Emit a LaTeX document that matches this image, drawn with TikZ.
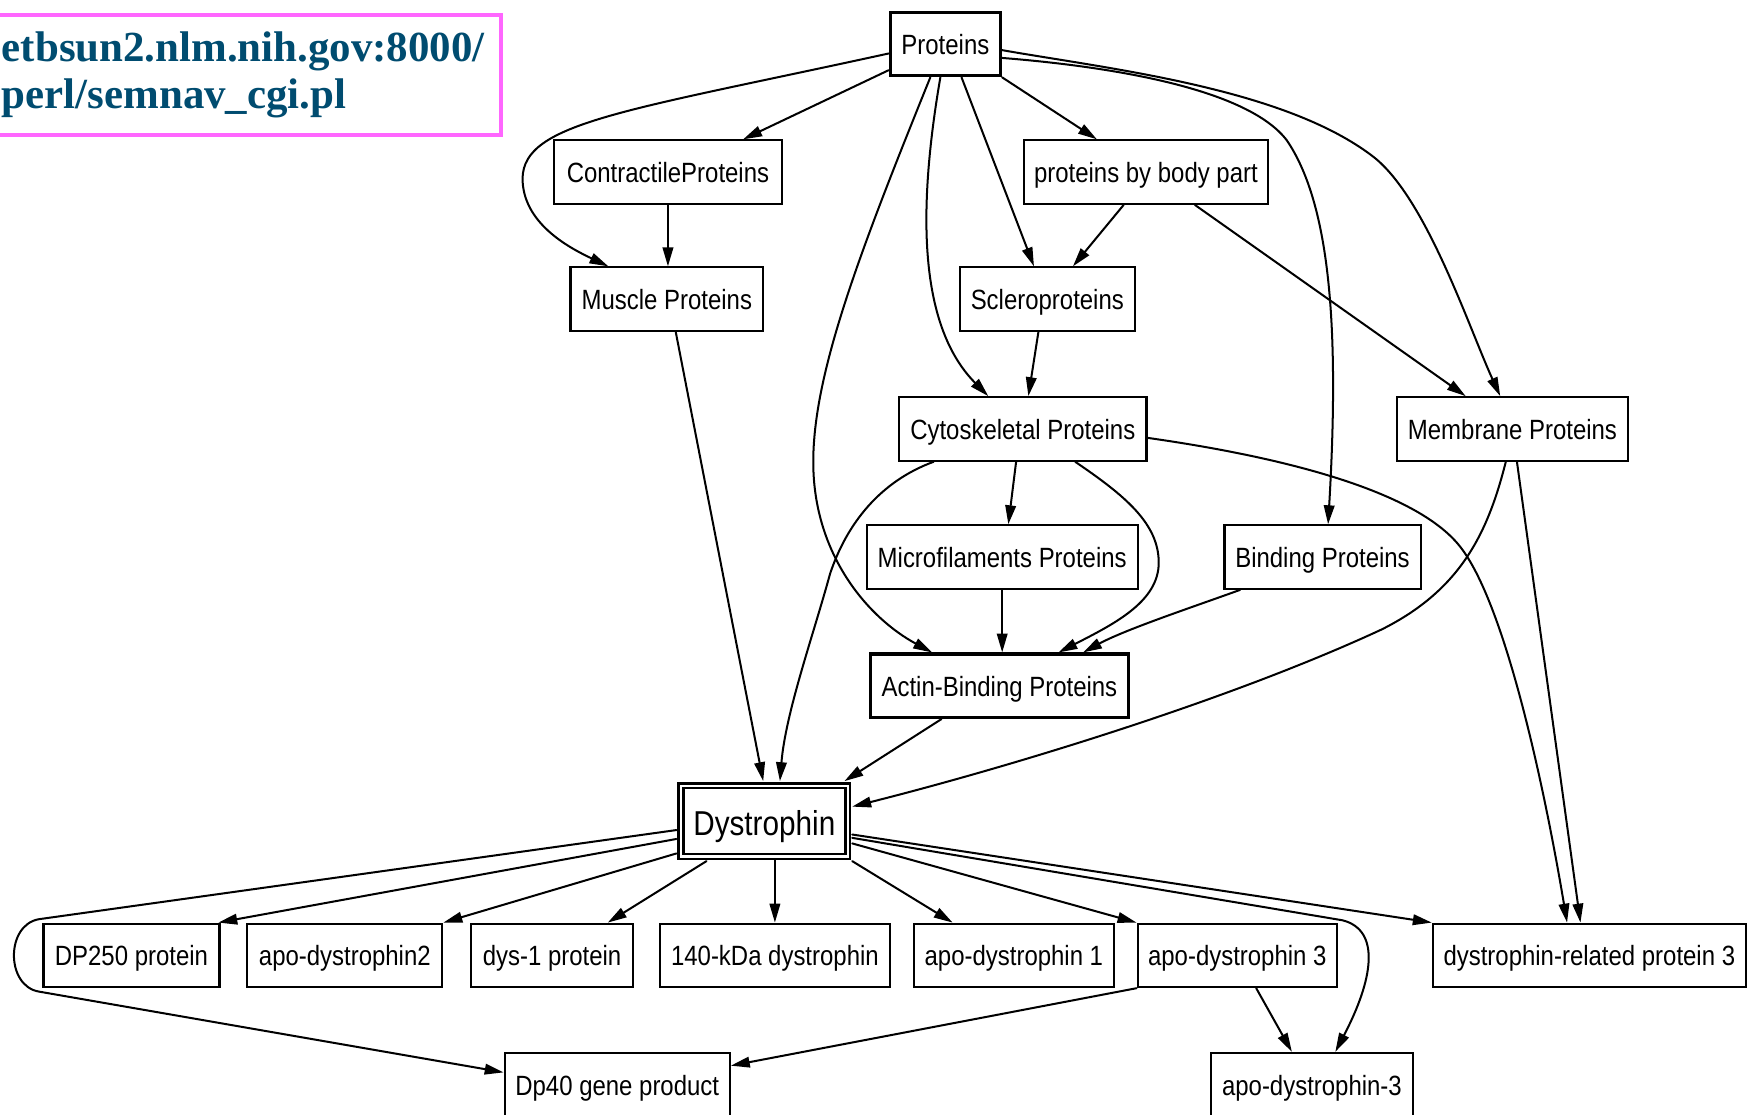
\documentclass[tikz,border=0pt]{standalone}
\usepackage{fontspec}
\usepackage{tikz}
\usetikzlibrary{arrows.meta,calc}
\usepackage{xcolor}
\newfontfamily\gvfont[FakeStretch=0.86]{Liberation Sans}
\newfontfamily\urlfont{Liberation Serif}
\definecolor{urlblue}{RGB}{0,76,112}
\definecolor{framepink}{RGB}{255,102,255}

\begin{document}
\begin{tikzpicture}[x=1pt,y=-1pt,>={Triangle[length=17pt,width=9.5pt]},line width=1.8pt,line cap=round,
  pbox/.style={draw,line width=1.9pt,minimum height=57pt,inner xsep=1pt,font=\gvfont\fontsize{25}{30}\selectfont,text height=19pt,text depth=0pt},
  thickbox/.style={pbox,line width=2.8pt},
  dbox/.style={pbox,double,double distance=2pt,line width=2.2pt,minimum height=63.6pt,font=\gvfont\fontsize{31}{36}\selectfont,text height=25pt}]
\fill[white] (0,0) rectangle (1568,1000);
\useasboundingbox (0,0) rectangle (1568,1000);
\clip (0,0) rectangle (1568,1000);
% address box
\node[draw=framepink,line width=3.5pt,inner xsep=15pt,inner ysep=15pt,anchor=north west,align=left,text=urlblue,font=\urlfont\bfseries\fontsize{38.5}{42}\selectfont] (url) at (-15,12) {etbsun2.nlm.nih.gov:8000/\\perl/semnav\_cgi.pl};
% nodes
\node[thickbox,minimum width=99pt] (prot) at (848.5,39.5) {Proteins};
\node[pbox,minimum width=205pt] (contr) at (599.5,154.5) {ContractileProteins};
\node[pbox,minimum width=219pt] (body) at (1028.5,154.5) {proteins by body part};
\node[pbox,minimum width=173pt] (musc) at (598.5,268.5) {Muscle Proteins};
\node[pbox,minimum width=157pt] (scler) at (940,268.5) {Scleroproteins};
\node[pbox,minimum width=222pt] (cyto) at (918,385) {Cytoskeletal Proteins};
\node[pbox,minimum width=207pt] (memb) at (1357.5,385) {Membrane Proteins};
\node[pbox,minimum width=243pt] (micro) at (899.5,500) {Microfilaments Proteins};
\node[pbox,minimum width=176pt] (bind) at (1187,500) {Binding Proteins};
\node[thickbox,minimum width=232pt] (actin) at (897,615.5) {Actin-Binding Proteins};
\node[dbox,minimum width=149.6pt] (dys) at (686,737) {Dystrophin};
\node[pbox,minimum width=158pt] (dp250) at (118,857.5) {DP250 protein};
\node[pbox,minimum width=175pt] (apo2) at (309.5,857.5) {apo-dystrophin2};
\node[pbox,minimum width=145pt] (dys1) at (495.5,857.5) {dys-1 protein};
\node[pbox,minimum width=207pt] (kda) at (695.5,857.5) {140-kDa dystrophin};
\node[pbox,minimum width=180pt] (apo1) at (910,857.5) {apo-dystrophin 1};
\node[pbox,minimum width=179pt] (apo3) at (1110.5,857.5) {apo-dystrophin 3};
\node[pbox,minimum width=281pt] (drp) at (1426.5,857.5) {dystrophin-related protein 3};
\node[pbox,minimum width=202pt] (dp40) at (554,973.5) {Dp40 gene product};
\node[pbox,minimum width=181pt] (apo3b) at (1177.5,973.5) {apo-dystrophin-3};
% upper edges
\draw[->] ($(prot.west)+(0,8.5)$) .. controls (560,100) and (470,110) .. (469,160) .. controls (469,200) and (510,222) .. ($(musc.north west)+(35,0)$);
\draw[->] ($(prot.west)+(0,23.5)$) -- ($(contr.north)+(67.5,0)$);
\draw[->] (contr.south) -- (contr.south |- musc.north);
\draw[->] ($(prot.south)+(-13.5,0)$) .. controls (770,230) and (728,340) .. (730,420) .. controls (732,500) and (780,555) .. ($(actin.north west)+(57,0)$);
\draw[->] ($(prot.south)+(-4.5,0)$) .. controls (825,180) and (822,290) .. ($(cyto.north)+(-31,0)$);
\draw[->] ($(prot.south)+(14.5,0)$) -- ($(scler.north)+(-12,0)$);
\draw[->] (prot.south east) -- ($(body.north)+(-44,0)$);
\draw[->] ($(prot.east)+(0,5.5)$) .. controls (996,62) and (1153,79) .. (1233,141) .. controls (1280,178) and (1318,293) .. ($(memb.north)+(-11,0)$);
\draw[->] ($(prot.east)+(0,12.5)$) .. controls (1000,60) and (1120,80) .. (1155,126) .. controls (1195,185) and (1202,300) .. ($(bind.north)+(5,0)$);
\draw[->] ($(body.south)+(-20,0)$) -- ($(scler.north)+(23,0)$);
\draw[->] ($(body.south)+(44,0)$) -- ($(memb.north)+(-42,0)$);
\draw[->] ($(scler.south)+(-8,0)$) -- ($(cyto.north)+(5,0)$);
% middle edges
\draw[->] ($(cyto.south)+(-6,0)$) -- ($(micro.north)+(5.5,0)$);
\draw[->] ($(cyto.south)+(47,0)$) .. controls (1010,445) and (1040,470) .. (1040,505) .. controls (1040,540) and (1000,560) .. ($(actin.north)+(53,0)$);
\draw[->] ($(cyto.south)+(-80,0)$) .. controls (790,432) and (760,470) .. (745,515) .. controls (730,570) and (705,640) .. ($(dys.north)+(14,-3)$);
\draw[->] ($(cyto.east)+(0,8)$) .. controls (1150,410) and (1270,440) .. (1310,490) .. controls (1350,540) and (1385,700) .. ($(drp.north)+(-20,0)$);
\draw[->] (micro.south) -- (micro.south |- actin.north);
\draw[->] ($(bind.south)+(-74,0)$) .. controls (1070,545) and (1010,565) .. ($(actin.north)+(75,0)$);
\draw[->] ($(actin.south)+(-52,0)$) -- ($(dys.north east)+(-4,-3)$);
\draw[->] ($(memb.south)+(-6,0)$) .. controls (1335,480) and (1310,530) .. (1240,565) .. controls (1100,630) and (900,690) .. ($(dys.east)+(3,-13)$);
\draw[->] ($(memb.south)+(4,0)$) -- ($(drp.north)+(-8,0)$);
\draw[->] ($(musc.south)+(8,0)$) -- ($(dys.north)+(-1,-3)$);
% lower edges
\draw[->] ($(dys.west)+(-3,8)$) -- (35,825) .. controls (5,830) and (5,885) .. (35,890) -- ($(dp40.west)+(0,-11)$);
\draw[->] ($(dys.west)+(-3,16)$) -- ($(dp250.north east)+(-2,0)$);
\draw[->] ($(dys.west)+(-3,29)$) -- (apo2.north east);
\draw[->] ($(dys.south west)+(24,3)$) -- ($(dys1.north)+(50,0)$);
\draw[->] ($(kda.north)+(0,-57)$) -- (kda.north);
\draw[->] ($(dys.south east)+(3,3)$) -- ($(apo1.north)+(-55,0)$);
\draw[->] ($(dys.east)+(3,20)$) -- (apo3.north west);
\draw[->] ($(dys.east)+(3,12)$) -- (drp.north west);
\draw[->] ($(dys.east)+(3,15)$) -- (1205,826) .. controls (1240,835) and (1232,880) .. ($(apo3b.north)+(21,0)$);
\draw[->] (apo3.south west) -- ($(dp40.east)+(0,-17)$);
\draw[->] ($(apo3.south)+(17,0)$) -- ($(apo3b.north)+(-18,0)$);
\end{tikzpicture}
\end{document}
